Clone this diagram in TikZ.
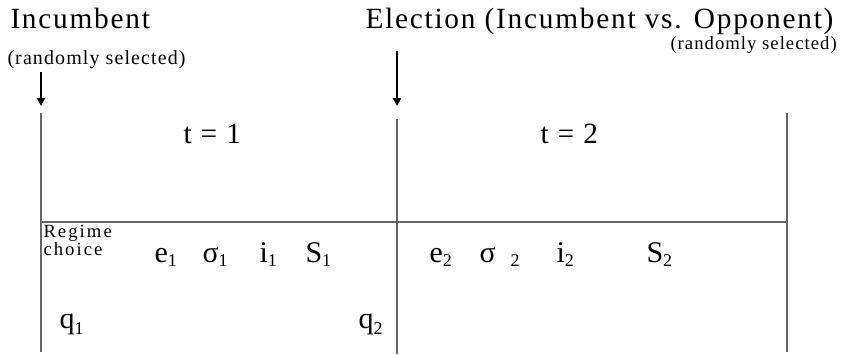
\documentclass[tikz,border=0pt]{standalone}
\usepackage{fontspec}
\setmainfont{Liberation Serif}
\newfontfamily\headfont[LetterSpace=6]{Liberation Serif}
\newfontfamily\notefont[LetterSpace=5.5]{Liberation Serif}
\newfontfamily\tinyfont[LetterSpace=11]{Liberation Serif}
\usetikzlibrary{arrows.meta}
\newcommand{\vsub}[3][3pt]{#2{\fontsize{13.5}{14}\selectfont\raisebox{-#1}{#3}}}
\tikzset{every picture/.style={line width=0.75pt}}

\begin{document}
\begin{tikzpicture}[x=0.75pt,y=0.75pt,yscale=-1,xscale=1,
		frame/.style={draw=black!60,line width=1.1pt},
		timearrow/.style={draw=black,line width=1.5pt,-{Triangle[width=6pt,length=6pt]}},
		txt/.style={anchor=base west,inner sep=0pt},
		head/.style={txt,font=\headfont\fontsize{22}{24}\selectfont},
		note/.style={txt,font=\notefont\fontsize{15}{17}\selectfont},
		var/.style={txt,font=\fontsize{22.5}{24}\selectfont}]
		\useasboundingbox (0,0) rectangle (862,354);
		
		%Corners of the frame
		\coordinate (lt) at (41,113);
		\coordinate (lb) at (41,352);
		\coordinate (mt) at (397,119);
		\coordinate (mb) at (397,354);
		\coordinate (rt) at (787,113);
		\coordinate (rb) at (787,352);
		\coordinate (hl) at (41,222);
		\coordinate (hr) at (787,222);
		%Arrow ends
		\coordinate (incs) at (41,72);
		\coordinate (ince) at (41,106);
		\coordinate (elecs) at (397,51);
		\coordinate (elece) at (397,106);
		
		%Straight Lines
		\draw [frame] (lt) -- (lb) ;
		%Straight Lines
		\draw [frame] (mt) -- (mb) ;
		%Straight Lines
		\draw [frame] (rt) -- (rb) ;
		%Straight Lines
		\draw [frame] (hl) -- (hr) ;
		%Arrows
		\draw [timearrow] (incs) -- (ince) ;
		\draw [timearrow] (elecs) -- (elece) ;
		
		% Text Node
		\node [head] (incumbent) at (10,28) {Incumbent};
		% Text Node
		\node [head] (election) at (365,28) {Election (Incumbent vs. Opponent)};
		% Text Node
		\node [note] (randleft) at (7,64) {(randomly selected)};
		% Text Node
		\node [note,font=\notefont\fontsize{14}{16}\selectfont] (randright) at (670,49) {(randomly selected)};
		% Text Node
		\node [head] (tone) at (183,143) {t = 1};
		% Text Node
		\node [head] (ttwo) at (540,143) {t = 2};
		% Text Node
		\node [txt,font=\tinyfont\fontsize{14}{16}\selectfont] (regime) at (43,237) {Regime};
		\node [txt,font=\tinyfont\fontsize{14}{16}\selectfont] (choice) at (43,255) {choice};
		% Text Node
		\node [var] (eone) at (154,262) {\vsub{e}{1}};
		\node [var] (sone) at (202,262) {\vsub{σ}{1}};
		\node [var] (ione) at (259,262) {\vsub{i}{1}};
		\node [var] (Sone) at (305,262) {\vsub{S}{1}};
		% Text Node
		\node [var] (etwo) at (429,262) {\vsub{e}{2}};
		\node [var] (stwo) at (479,262) {\vsub{σ\ \ }{2}};
		\node [var] (itwo) at (556,262) {\vsub{i}{2}};
		\node [var] (Stwo) at (646,262) {\vsub{S}{2}};
		% Text Node
		\node [var] (qone) at (59,328) {\vsub[5pt]{q}{1}};
		\node [var] (qtwo) at (358,328) {\vsub[5pt]{q}{2}};
		
	\end{tikzpicture}
\end{document}
